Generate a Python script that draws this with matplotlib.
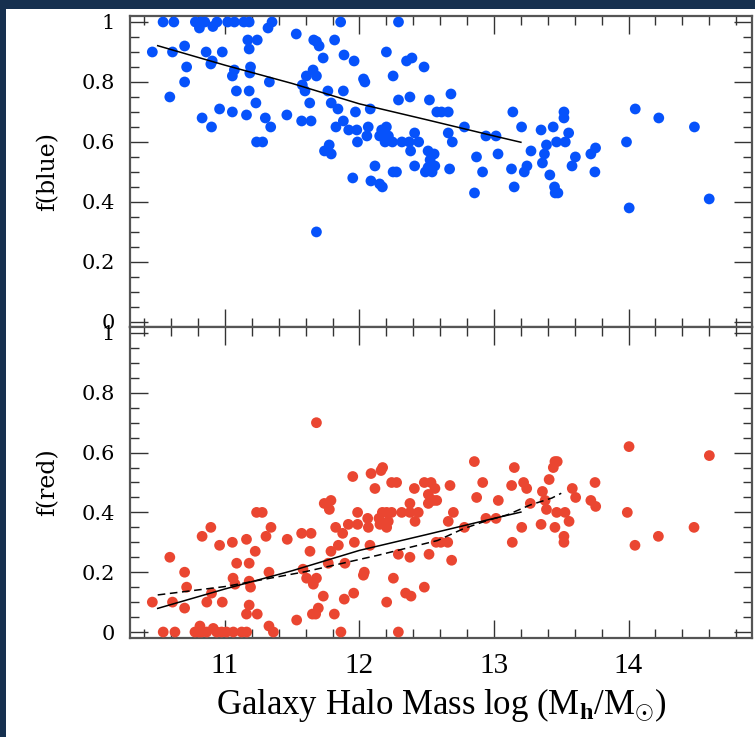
import matplotlib
matplotlib.use("Agg")
import matplotlib.pyplot as plt
from matplotlib.patches import Rectangle
from matplotlib.ticker import MultipleLocator, FuncFormatter

plt.rcParams["mathtext.fontset"] = "custom"
plt.rcParams["mathtext.rm"] = "Liberation Serif"
plt.rcParams["mathtext.it"] = "Liberation Serif:italic"
plt.rcParams["mathtext.bf"] = "Liberation Serif:bold"

# ---- blue fraction per halo ----
blue_mass = [10.54, 10.62, 10.78, 10.82, 10.85, 10.91, 10.94, 11.02, 11.07, 11.14,
             11.18, 10.81, 11.32, 11.35, 11.86, 12.29, 11.53, 11.17, 11.24, 11.66,
             11.68, 11.70, 11.815, 10.70, 11.18, 10.46, 10.61, 10.86, 10.98, 11.885,
             10.905, 11.73, 10.895, 10.715, 11.19, 11.07, 11.185, 11.055, 11.655, 11.605,
             11.68, 10.70, 11.33, 11.575, 11.085, 11.18, 11.595, 11.765, 11.88, 10.59,
             11.23, 11.63, 11.79, 10.96, 11.055, 11.84, 11.16, 11.46, 10.83, 11.30,
             11.57, 11.64, 11.88, 10.90, 11.34, 11.825, 11.235, 11.28, 11.775, 11.74,
             11.79, 11.96, 12.20, 12.35, 12.39, 12.48, 12.03, 12.04, 12.25, 12.29,
             12.375, 12.52, 12.68, 11.97, 12.08, 12.575, 12.61, 12.66, 13.14, 11.92,
             11.98, 12.065, 12.055, 11.985, 12.165, 12.20, 12.15, 12.215, 12.19, 12.245,
             12.315, 12.37, 12.41, 12.44, 12.38, 12.51, 12.555, 12.525, 12.115, 12.41,
             12.56, 12.51, 12.49, 12.54, 12.67, 12.25, 12.275, 11.95, 12.085, 12.66,
             12.69, 12.78, 12.94, 13.015, 13.03, 12.87, 12.915, 13.13, 13.205, 13.275,
             13.35, 13.44, 13.39, 13.375, 13.36, 13.245, 13.225, 13.415, 11.68, 12.15,
             12.17, 12.855, 13.15, 13.52, 13.52, 13.555, 13.465, 13.53, 13.45, 13.455,
             13.475, 13.605, 13.58, 13.72, 13.755, 13.75, 13.985, 14.005, 14.05, 14.225,
             14.49, 14.60]
blue_frac = [1.00, 1.00, 1.00, 1.00, 1.00, 0.985, 1.00, 1.00, 1.00, 1.00,
             1.00, 0.98, 0.98, 1.00, 1.00, 1.00, 0.96, 0.94, 0.94, 0.94,
             0.935, 0.92, 0.94, 0.92, 0.91, 0.90, 0.90, 0.90, 0.90, 0.89,
             0.87, 0.88, 0.86, 0.85, 0.85, 0.84, 0.83, 0.82, 0.84, 0.82,
             0.82, 0.80, 0.80, 0.79, 0.77, 0.77, 0.77, 0.77, 0.77, 0.75,
             0.73, 0.73, 0.73, 0.71, 0.70, 0.71, 0.69, 0.69, 0.68, 0.68,
             0.67, 0.67, 0.67, 0.65, 0.65, 0.65, 0.60, 0.60, 0.59, 0.57,
             0.56, 0.87, 0.90, 0.87, 0.88, 0.85, 0.81, 0.80, 0.82, 0.74,
             0.75, 0.74, 0.76, 0.70, 0.71, 0.70, 0.70, 0.70, 0.70, 0.64,
             0.64, 0.65, 0.62, 0.60, 0.64, 0.65, 0.62, 0.62, 0.60, 0.60,
             0.60, 0.60, 0.63, 0.60, 0.57, 0.57, 0.56, 0.54, 0.52, 0.52,
             0.52, 0.515, 0.50, 0.50, 0.51, 0.50, 0.50, 0.48, 0.47, 0.63,
             0.60, 0.65, 0.62, 0.62, 0.56, 0.55, 0.50, 0.51, 0.65, 0.57,
             0.64, 0.65, 0.59, 0.56, 0.53, 0.52, 0.50, 0.49, 0.30, 0.46,
             0.45, 0.43, 0.45, 0.70, 0.68, 0.63, 0.60, 0.60, 0.45, 0.43,
             0.43, 0.55, 0.52, 0.56, 0.58, 0.50, 0.60, 0.38, 0.71, 0.68,
             0.65, 0.41]

# ---- red fraction per halo ----
red_mass = [10.46, 10.59, 10.61, 10.70, 10.715, 10.70, 10.83, 10.895, 10.90, 10.865,
            10.96, 10.98, 11.055, 11.06, 11.075, 11.087, 11.16, 11.18, 11.18, 11.19,
            11.18, 11.16, 11.225, 11.24, 11.235, 11.277, 11.327, 11.342, 11.305, 11.327,
            11.36, 11.463, 11.533, 11.57, 11.64, 11.58, 11.607, 11.632, 11.657, 11.68,
            11.65, 11.674, 11.694, 11.731, 11.738, 11.788, 11.776, 11.768, 11.788, 11.823,
            11.843, 11.813, 11.68, 11.875, 11.892, 11.887, 11.917, 11.95, 11.962, 11.957,
            11.986, 11.986, 12.036, 12.029, 12.061, 12.066, 12.086, 12.078, 12.115, 12.145,
            12.16, 12.172, 12.17, 12.202, 12.239, 12.152, 12.202, 12.214, 12.239, 12.276,
            12.252, 12.202, 12.289, 12.314, 12.375, 12.437, 12.375, 12.413, 12.408, 12.375,
            12.343, 12.383, 12.482, 12.532, 12.512, 12.561, 12.574, 12.549, 12.512, 12.482,
            12.517, 12.57, 12.605, 12.656, 12.673, 12.698, 12.66, 12.685, 12.78, 12.854,
            12.871, 12.916, 12.94, 13.015, 13.032, 13.131, 13.151, 13.136, 13.206, 13.22,
            13.243, 13.27, 13.35, 13.36, 13.38, 13.39, 13.41, 13.441, 13.453, 13.47,
            13.453, 13.466, 13.528, 13.558, 13.52, 13.52, 13.582, 13.607, 13.72, 13.756,
            13.751, 13.991, 14.004, 14.048, 14.222, 14.487, 14.601,
            10.541, 10.628, 10.777, 10.807, 10.827, 10.864, 10.913, 10.938, 10.975, 11.012,
            11.062, 11.124, 11.161, 11.862, 12.289, 10.814]
red_frac = [0.10, 0.25, 0.10, 0.20, 0.15, 0.08, 0.32, 0.35, 0.13, 0.10,
            0.29, 0.10, 0.30, 0.18, 0.16, 0.23, 0.31, 0.23, 0.17, 0.15,
            0.09, 0.06, 0.27, 0.06, 0.40, 0.40, 0.20, 0.35, 0.32, 0.02,
            0.00, 0.31, 0.04, 0.33, 0.33, 0.21, 0.18, 0.27, 0.16, 0.18,
            0.06, 0.06, 0.08, 0.12, 0.43, 0.44, 0.41, 0.23, 0.27, 0.35,
            0.29, 0.06, 0.70, 0.33, 0.23, 0.11, 0.36, 0.52, 0.30, 0.13,
            0.40, 0.36, 0.20, 0.19, 0.38, 0.35, 0.53, 0.29, 0.48, 0.38,
            0.54, 0.55, 0.40, 0.40, 0.40, 0.36, 0.35, 0.37, 0.50, 0.50,
            0.18, 0.10, 0.26, 0.40, 0.40, 0.40, 0.43, 0.37, 0.48, 0.25,
            0.13, 0.12, 0.50, 0.50, 0.46, 0.48, 0.44, 0.44, 0.43, 0.15,
            0.26, 0.30, 0.30, 0.30, 0.49, 0.40, 0.37, 0.24, 0.35, 0.57,
            0.45, 0.50, 0.38, 0.38, 0.44, 0.49, 0.55, 0.30, 0.35, 0.50,
            0.48, 0.43, 0.36, 0.47, 0.44, 0.41, 0.51, 0.55, 0.57, 0.57,
            0.35, 0.40, 0.40, 0.37, 0.32, 0.30, 0.48, 0.45, 0.44, 0.42,
            0.50, 0.40, 0.62, 0.29, 0.32, 0.35, 0.59,
            0.00, 0.00, 0.00, 0.00, 0.00, 0.00, 0.012, 0.00, 0.00, 0.00,
            0.00, 0.00, 0.00, 0.00, 0.00, 0.02]

# ---- fitted trends ----
blue_fit_mass = [10.5, 11.0, 11.5, 12.0, 12.5, 13.0, 13.2]
blue_fit_frac = [0.921, 0.856, 0.795, 0.727, 0.674, 0.620, 0.599]
red_fit_mass = [10.5, 11.0, 11.5, 12.0, 12.5, 13.0, 13.2]
red_fit_frac = [0.079, 0.144, 0.205, 0.273, 0.326, 0.380, 0.401]
red_alt_mass = [10.5, 11.0, 11.6, 12.14, 12.58, 12.77, 12.95, 13.1, 13.27, 13.43, 13.5]
red_alt_frac = [0.124, 0.152, 0.202, 0.257, 0.306, 0.345, 0.373, 0.392, 0.425, 0.448, 0.464]

mass_ticks = [11, 12, 13, 14]

BLUE = "#0652fb"
RED = "#ea4631"
NAVY = "#16304f"

W, H = 755, 737
fig = plt.figure(figsize=(W / 100, H / 100), dpi=100, facecolor="white")
# dark frame along the top and left edges
fig.patches.append(Rectangle((0, 1 - 9 / H), 1, 9 / H, transform=fig.transFigure,
                             facecolor=NAVY, edgecolor="none"))
fig.patches.append(Rectangle((0, 0), 6 / W, 1, transform=fig.transFigure,
                             facecolor=NAVY, edgecolor="none"))

left = 130 / W
width = 622 / W
ax_top = fig.add_axes([left, 1 - 327 / H, width, 311 / H])
ax_bot = fig.add_axes([left, 1 - 638 / H, width, 311 / H], sharex=ax_top)

fmt = FuncFormatter(lambda v, p: "%g" % round(v, 2))

for ax in (ax_top, ax_bot):
    ax.set_xlim(10.294, 14.918)
    ax.xaxis.set_major_locator(MultipleLocator(1))
    ax.xaxis.set_minor_locator(MultipleLocator(0.2))
    ax.yaxis.set_major_locator(MultipleLocator(0.2))
    ax.yaxis.set_minor_locator(MultipleLocator(0.05))
    ax.yaxis.set_major_formatter(fmt)
    ax.tick_params(which="both", direction="in", top=True, right=True,
                   color="#333333", width=1.0)
    ax.tick_params(which="major", length=13, pad=11)
    ax.tick_params(which="minor", length=6.5)
    for sp in ax.spines.values():
        sp.set_linewidth(1.6)
        sp.set_color("#555555")

ax_top.set_ylim(-0.017, 1.02)
ax_bot.set_ylim(-0.02, 1.02)

ax_top.scatter(blue_mass, blue_frac, s=60, color=BLUE, edgecolors="none", zorder=3)
ax_top.plot(blue_fit_mass, blue_fit_frac, color="black", lw=1.1, zorder=4)

ax_bot.scatter(red_mass, red_frac, s=60, color=RED, edgecolors="none", zorder=3)
ax_bot.plot(red_fit_mass, red_fit_frac, color="black", lw=1.1, zorder=4)
ax_bot.plot(red_alt_mass, red_alt_frac, color="black", lw=1.1, ls=(0, (5, 3)), zorder=4)

ax_top.tick_params(axis="x", labelbottom=False)
ax_bot.set_xticks(mass_ticks)
ax_bot.set_xticklabels([str(t) for t in mass_ticks], family="Liberation Serif", size=21)
ax_bot.tick_params(axis="x", which="major", pad=11)

for lab in ax_top.get_yticklabels() + ax_bot.get_yticklabels():
    lab.set_fontfamily("DejaVu Serif")
    lab.set_fontsize(15)

ax_top.set_ylabel("f(blue)", family="DejaVu Serif", size=17, labelpad=16)
ax_bot.set_ylabel("f(red)", family="DejaVu Serif", size=17, labelpad=16)
ax_bot.set_xlabel(r"Galaxy Halo Mass log $(\mathrm{M_{\mathbf{h}}/M_{\odot}})$",
                  family="Liberation Serif", size=25, labelpad=5)

fig.savefig("out.png", dpi=100)
